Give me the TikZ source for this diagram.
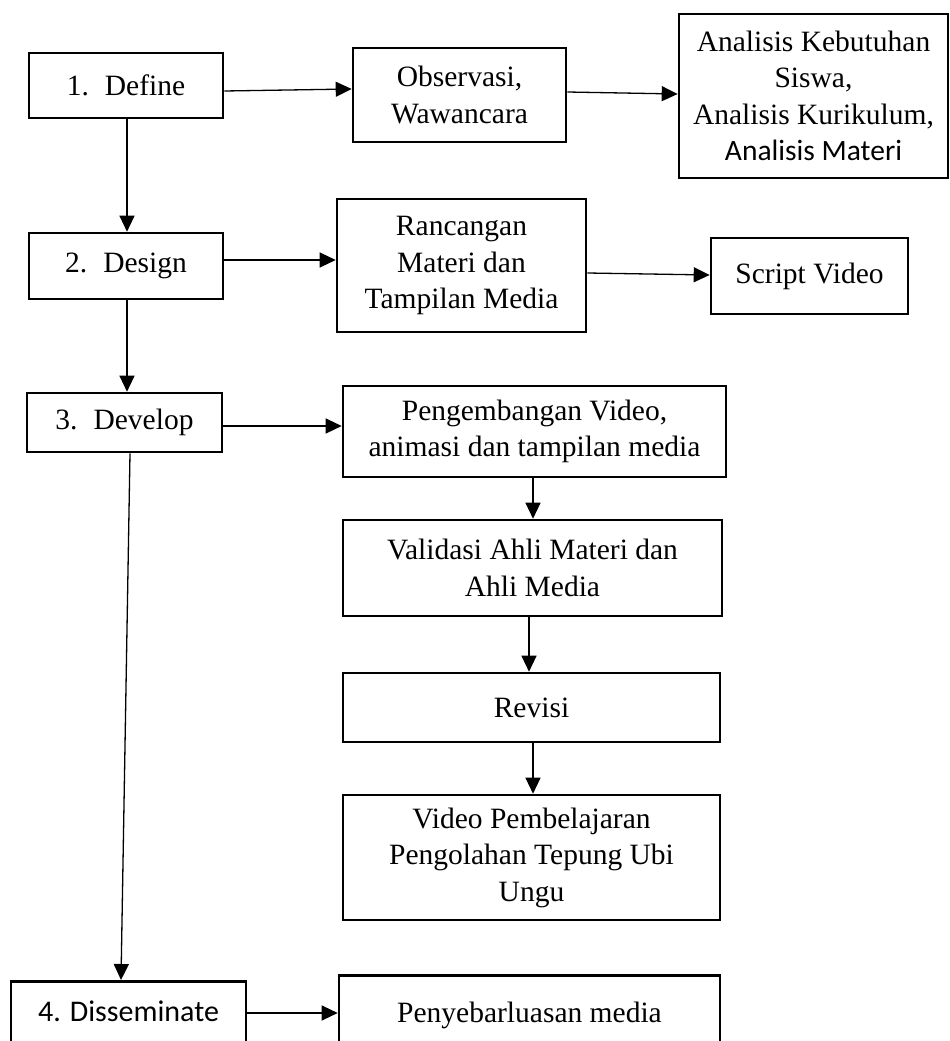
\documentclass[tikz,border=0pt]{standalone}
\usepackage{fontspec}
\setmainfont{Liberation Serif}
\newfontfamily\carlito{Carlito}
\usetikzlibrary{arrows.meta,calc}
\tikzset{
  box/.style={draw, line width=2.6pt, inner sep=0pt, align=center,
              font=\fontsize{29.5}{36.5}\selectfont},
  conn/.style={line width=1.3pt, -{Triangle[length=16pt,width=15pt]}}
}
\begin{document}
\begin{tikzpicture}[x=1pt,y=-1pt]
\useasboundingbox (0,0) rectangle (950,1041);
\clip (0,0) rectangle (950,1041);
\fill[white] (0,0) rectangle (950,1041);
% left column
\node[box, minimum width=194pt, minimum height=65pt] (define) at (126,85.5) {1.\hspace{16pt}Define};
\node[box, minimum width=194pt, minimum height=66pt] (design) at (126,266) {2.\hspace{16pt}Design};
\node[box, minimum width=195pt, minimum height=59pt] (develop) at (124.5,422.5) {3.\hspace{16pt}Develop};
\node[box, minimum width=235pt, text height=40pt, text depth=60pt, anchor=north, font=\carlito\fontsize{30}{36}\selectfont] (dis) at (128.5,980) {4. Disseminate};
% right side
\node[box, minimum width=213pt, minimum height=94pt] (obs) at (459.5,95) {Observasi,\\Wawancara};
\node[box, minimum width=269pt, minimum height=164pt] (anal) at (813.5,96) {Analisis Kebutuhan\\Siswa,\\Analisis Kurikulum,\\{\carlito Analisis Materi}};
\node[box, minimum width=249pt, minimum height=133pt] (ranc) at (461.5,265.5) {Rancangan\\Materi dan\\Tampilan Media};
\node[box, minimum width=197pt, minimum height=76pt] (script) at (809.5,276) {Script Video};
\node[box, minimum width=383pt, minimum height=91pt] (peng) at (534.5,431.5) {Pengembangan Video,\\animasi dan tampilan media};
\node[box, minimum width=379pt, minimum height=96pt] (valid) at (532.5,568) {Validasi Ahli Materi dan\\Ahli Media};
\node[box, minimum width=377pt, minimum height=69pt] (revisi) at (531.5,707.5) {Revisi};
\node[box, minimum width=377pt, minimum height=125pt] (video) at (531.5,857.5) {Video Pembelajaran\\Pengolahan Tepung Ubi\\Ungu};
\node[box, minimum width=381pt, text height=47pt, text depth=60pt, anchor=north] (pen) at (529.5,974) {Penyebarluasan media};
% connectors
\draw[conn] ([yshift=-5.5pt]define.east) -- ([yshift=6pt]obs.west);
\draw[conn] ([yshift=3pt]obs.east) -- ([yshift=2pt]anal.west);
\draw[conn] ([xshift=1pt]define.south) -- ([xshift=1pt]define.south |- design.north);
\draw[conn] ([yshift=6pt]design.east) -- ([yshift=5.5pt]ranc.west);
\draw[conn] ([yshift=-7.5pt]ranc.east) -- ([yshift=1pt]script.west);
\draw[conn] ([xshift=1pt]design.south) -- ([xshift=1pt]design.south |- develop.north);
\draw[conn] ([yshift=-3.5pt]develop.east) -- ([yshift=5.5pt]peng.west);
\draw[conn] ([xshift=5.5pt]develop.south) -- ([xshift=-7.5pt]dis.north);
\draw[conn] ([yshift=-33pt]dis.north east) -- ([yshift=-33pt]dis.north east -| pen.west);
\draw[conn] ([xshift=-1.5pt]peng.south) -- ([xshift=-1.5pt]peng.south |- valid.north);
\draw[conn] ([xshift=-3.5pt]valid.south) -- ([xshift=-3.5pt]valid.south |- revisi.north);
\draw[conn] ([xshift=1.5pt]revisi.south) -- ([xshift=1.5pt]revisi.south |- video.north);
\end{tikzpicture}
\end{document}
